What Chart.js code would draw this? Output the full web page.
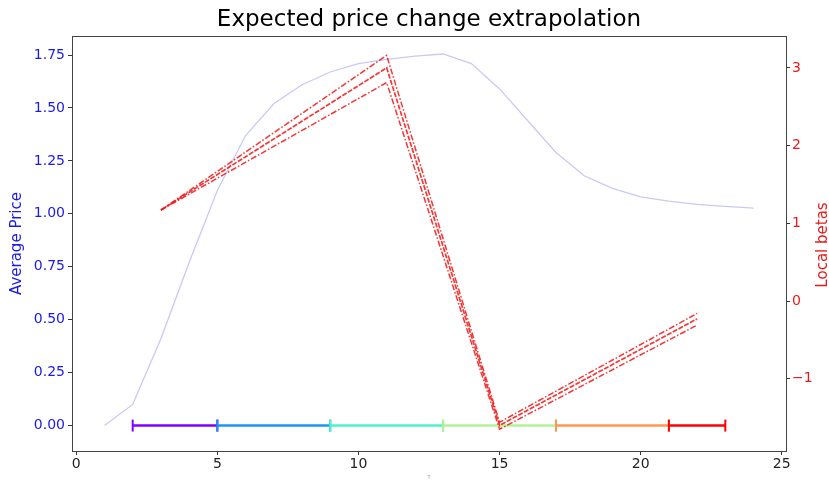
<!DOCTYPE html>
<html>
<head>
<meta charset="utf-8">
<script src="https://cdn.jsdelivr.net/npm/chart.js@4.4.0/dist/chart.umd.min.js"></script>
<style>
  body { margin: 0; background: #ffffff; }
  #GraphBeta { display: block; }
</style>
</head>
<body>
<canvas id="GraphBeta" width="829" height="481"></canvas>
<script>
// values
var timeSteps = [1, 2, 3, 4, 5, 6, 7, 8, 9, 10, 11, 12, 13, 14, 15, 16, 17, 18, 19, 20, 21, 22, 23, 24];
var avgPrice = [0.00, 0.10, 0.41, 0.77, 1.11, 1.37, 1.52, 1.61, 1.67, 1.71, 1.73, 1.745, 1.755, 1.71, 1.59, 1.44, 1.29, 1.18, 1.12, 1.08, 1.06, 1.045, 1.035, 1.027];

var betaSteps = [3, 11, 15, 22];
var betaUpper = [1.17, 3.16, -1.56, -0.16];
var betaMid = [1.17, 3.00, -1.60, -0.23];
var betaLower = [1.17, 2.81, -1.65, -0.31];

var segStart = [2, 5, 9, 13, 17, 21];
var segEnd = [5, 9, 13, 17, 21, 23];
var segColors = ['#8000ff', '#1a96f2', '#4cf2ce', '#b2f296', '#ff964f', '#ff0000'];

var xTicks = [0, 5, 10, 15, 20, 25];

var font = "'DejaVu Sans', sans-serif";

function pts(xs, ys){
    var out = [];
    for(var i = 0; i < xs.length; i++){
        out.push({x: xs[i], y: ys[i]});
    }
    return out;
}

var datasets = [];

// red local betas (drawn on top, so first)
datasets.push({label: 'beta upper', data: pts(betaSteps, betaUpper), yAxisID: 'y1',
    borderColor: 'rgba(240,20,20,0.85)', borderWidth: 1.5, borderDash: [6, 2, 1.5, 2], pointRadius: 0, fill: false, tension: 0});
datasets.push({label: 'beta', data: pts(betaSteps, betaMid), yAxisID: 'y1',
    borderColor: 'rgba(240,20,20,0.85)', borderWidth: 1.7, borderDash: [5, 1.5], pointRadius: 0, fill: false, tension: 0});
datasets.push({label: 'beta lower', data: pts(betaSteps, betaLower), yAxisID: 'y1',
    borderColor: 'rgba(240,20,20,0.85)', borderWidth: 1.5, borderDash: [6, 2, 1.5, 2], pointRadius: 0, fill: false, tension: 0});

// horizontal interval bars with caps
for(var s = segStart.length - 1; s >= 0; s--){
    datasets.push({label: 'seg' + s, data: pts([segStart[s], segEnd[s]], [0, 0]), yAxisID: 'y',
        borderColor: segColors[s], backgroundColor: segColors[s], borderWidth: 2.5,
        pointStyle: 'line', rotation: 90, pointRadius: 6, pointBorderWidth: 2, pointBorderColor: segColors[s],
        fill: false, tension: 0});
}

// average price
datasets.push({label: 'Average Price', data: pts(timeSteps, avgPrice), yAxisID: 'y',
    borderColor: '#c9c9f7', borderWidth: 1.3, pointRadius: 0, fill: false, tension: 0});

var framePlugin = {
    id: 'frame',
    afterDraw: function(chart){
        var ctx = chart.ctx;
        var a = chart.chartArea;
        ctx.save();
        ctx.strokeStyle = '#444444';
        ctx.lineWidth = 1;
        ctx.strokeRect(Math.round(a.left) + 0.5, Math.round(a.top) + 0.5, Math.round(a.right - a.left), Math.round(a.bottom - a.top));
        ctx.fillStyle = '#000000';
        ctx.font = '23px ' + font;
        ctx.textAlign = 'center';
        ctx.textBaseline = 'middle';
        ctx.fillText('Expected price change extrapolation', (a.left + a.right) / 2, 20);
        // right axis label reads bottom to top, like the left one
        ctx.translate(823, 245);
        ctx.rotate(-Math.PI / 2);
        ctx.fillStyle = '#e61a1a';
        ctx.font = '15px ' + font;
        ctx.fillText('Local betas', 0, 0);
        ctx.restore();
    }
};

var stat = document.getElementById("GraphBeta");
var BetaChart = new Chart(stat, {
    type: 'line',
    data: { datasets: datasets },
    plugins: [framePlugin],
    options: {
        responsive: false,
        animation: false,
        layout: { padding: { top: 36, left: 0, right: 0, bottom: 0 } },
        plugins: { legend: { display: false }, tooltip: { enabled: false }, title: { display: false } },
        scales: {
            x: {
                type: 'linear', min: -0.15, max: 25.15,
                afterFit: function(scale){ scale.height = 30; },
                afterBuildTicks: function(scale){ scale.ticks = xTicks.map(function(v){ return {value: v}; }); },
                grid: { drawOnChartArea: false, tickLength: 4, color: '#333333' },
                border: { display: false },
                ticks: { color: '#222222', font: { family: font, size: 14 }, padding: 1, maxRotation: 0 },
                title: { display: true, text: 'T', color: '#999999', font: { family: font, size: 5 }, padding: 0 }
            },
            y: {
                position: 'left', min: -0.12, max: 1.84,
                afterFit: function(scale){ scale.width = 72; },
                grid: { drawOnChartArea: false, tickLength: 4, color: '#333333' },
                border: { display: false },
                ticks: { stepSize: 0.25, includeBounds: false, color: '#1a1ae6', font: { family: font, size: 14 }, padding: 3,
                    callback: function(v){ return v.toFixed(2); } },
                title: { display: true, text: 'Average Price', color: '#1a1ae6', font: { family: font, size: 15, lineHeight: 1 }, padding: { top: 10, bottom: 0 } }
            },
            y1: {
                position: 'right', min: -1.93, max: 3.41,
                afterFit: function(scale){ scale.width = 43; },
                grid: { drawOnChartArea: false, tickLength: 4, color: '#333333' },
                border: { display: false },
                ticks: { stepSize: 1, includeBounds: false, color: '#e61a1a', font: { family: font, size: 14 }, padding: 2,
                    callback: function(v){ return String(v).replace('-', '\u2212'); } }
            }
        }
    }
});
</script>
</body>
</html>
